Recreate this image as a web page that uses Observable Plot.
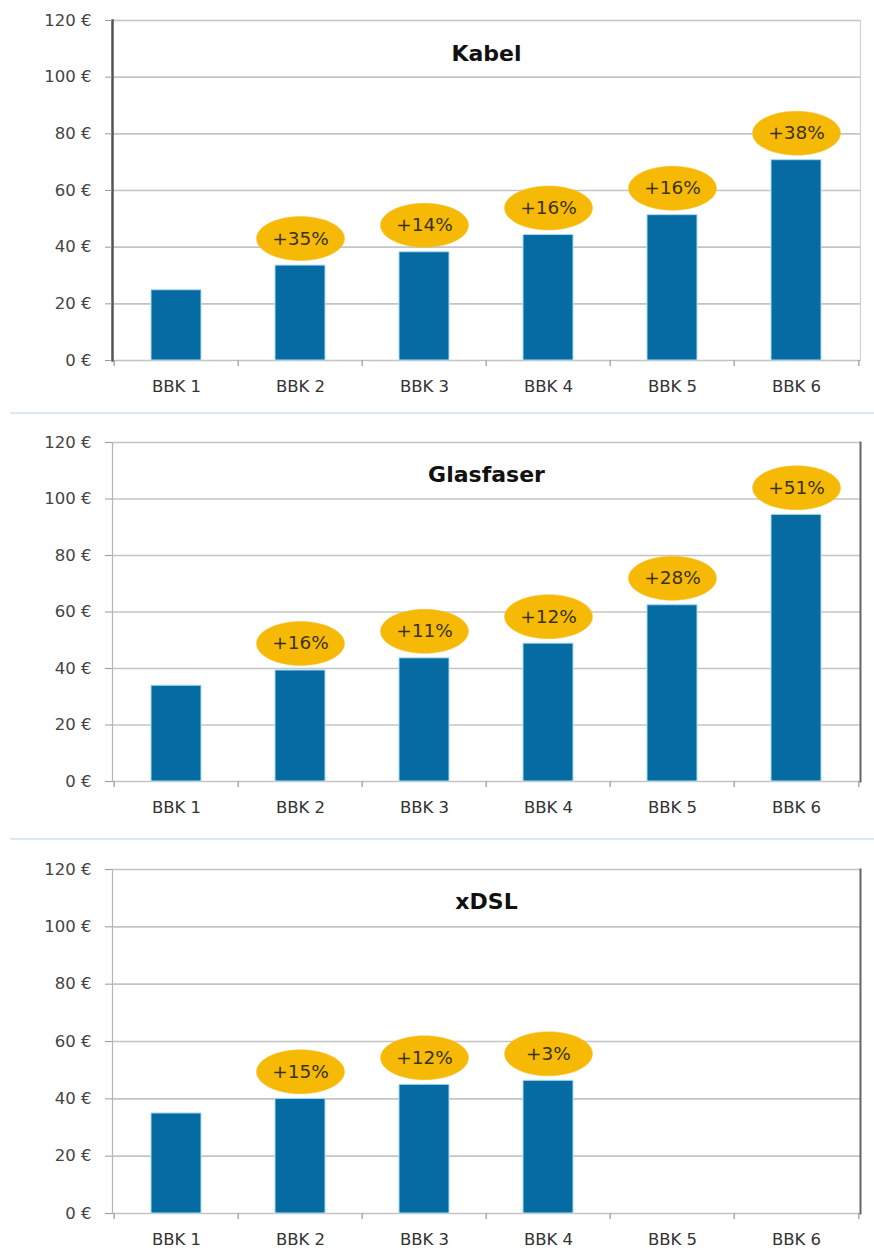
<!DOCTYPE html>
<html>
<head>
<meta charset="utf-8">
<script src="https://cdn.jsdelivr.net/npm/d3@7"></script>
<script src="https://cdn.jsdelivr.net/npm/@observablehq/plot@0.6"></script>
<style>
  html, body { margin: 0; padding: 0; background: #fff; }
  #root { width: 874px; }
  .sep { height: 2px; background: #dce9f4; margin-left: 10px; }
  svg { display: block; }
</style>
</head>
<body>
<div id="root"></div>
<script>
const categories = ["BBK 1", "BBK 2", "BBK 3", "BBK 4", "BBK 5", "BBK 6"];
const yTicks = [0, 20, 40, 60, 80, 100, 120];

const kabelValues = [24.8, 33.5, 38.2, 44.3, 51.3, 70.7];
const kabelChanges = [null, "+35%", "+14%", "+16%", "+16%", "+38%"];

const glasfaserValues = [33.9, 39.3, 43.6, 48.8, 62.4, 94.4];
const glasfaserChanges = [null, "+16%", "+11%", "+12%", "+28%", "+51%"];

const xdslValues = [34.9, 40.0, 44.9, 46.3, null, null];
const xdslChanges = [null, "+15%", "+12%", "+3%", null, null];

const panels = [
  {title: "Kabel", values: kabelValues, changes: kabelChanges,
   height: 412, marginTop: 20, marginBottom: 52, leftDark: true, titleDy: 25},
  {title: "Glasfaser", values: glasfaserValues, changes: glasfaserChanges,
   height: 424, marginTop: 28, marginBottom: 57, leftDark: false, titleDy: 24},
  {title: "xDSL", values: xdslValues, changes: xdslChanges,
   height: 411, marginTop: 29, marginBottom: 38, leftDark: false, titleDy: 24}
];

const ellipse = {
  draw(context, size) {
    const r = Math.sqrt(size / Math.PI);
    const rx = r * 2.0, ry = r;
    const k = 0.5522848;
    context.moveTo(rx, 0);
    context.bezierCurveTo(rx, ry * k, rx * k, ry, 0, ry);
    context.bezierCurveTo(-rx * k, ry, -rx, ry * k, -rx, 0);
    context.bezierCurveTo(-rx, -ry * k, -rx * k, -ry, 0, -ry);
    context.bezierCurveTo(rx * k, -ry, rx, -ry * k, rx, 0);
    context.closePath();
  }
};

const W = 874, ML = 112, MR = 14;
const step = (W - ML - MR) / categories.length;
const root = document.getElementById("root");
const font = "DejaVu Sans, sans-serif";

panels.forEach((p, idx) => {
  const rows = categories.map((c, i) => ({cat: c, value: p.values[i], change: p.changes[i]}));
  const bars = rows.filter(d => d.value != null);
  const badges = rows.filter(d => d.change != null);
  const chart = Plot.plot({
    width: W,
    height: p.height,
    marginLeft: ML,
    marginRight: MR,
    marginTop: p.marginTop,
    marginBottom: p.marginBottom,
    style: {fontFamily: font, background: "#fff", overflow: "visible"},
    x: {domain: categories, paddingInner: 0.6, paddingOuter: 0.3, label: null},
    y: {domain: [0, 120], label: null},
    marks: [
      Plot.gridY(yTicks, {stroke: "#c4c4c4", strokeOpacity: 1, strokeWidth: 1.6}),
      Plot.frame({anchor: "left", stroke: p.leftDark ? "#555" : "#b5b5b5", strokeWidth: p.leftDark ? 2.5 : 1.2}),
      Plot.frame({anchor: "right", stroke: p.leftDark ? "#d2d2d2" : "#666", strokeWidth: p.leftDark ? 1.2 : 2}),
      Plot.axisY({ticks: yTicks, tickFormat: d => d + " €", tickSize: 7, tickPadding: 14,
        fontSize: 16.5, fill: "#444", stroke: "#999", label: null}),
      Plot.axisX({tickSize: 0, tickPadding: 20, fontSize: 16.5, fill: "#333", label: null}),
      Plot.ruleX(categories, {x: d => d, dx: -step / 2, y1: 0, y2: 0, insetBottom: -6, stroke: "#999", strokeWidth: 1.2}),
      Plot.ruleX([categories[categories.length - 1]], {x: d => d, dx: step / 2, y1: 0, y2: 0, insetBottom: -6, stroke: "#999", strokeWidth: 1.2}),
      Plot.barY(bars, {x: "cat", y: "value", fill: "#076ba3", stroke: "#a8ddf2", strokeWidth: 1}),
      Plot.dot(badges, {x: "cat", y: "value", dy: -27, r: 22, symbol: ellipse, fill: "#f6b906", stroke: "#f3c233", strokeWidth: 0.5}),
      Plot.text(badges, {x: "cat", y: "value", dy: -27, text: "change", fontSize: 18.5, fill: "#3a3320"}),
      Plot.text([p.title], {frameAnchor: "top", dy: p.titleDy, fontSize: 22, fontWeight: "bold", fill: "#111"})
    ]
  });
  root.appendChild(chart);
  if (idx < panels.length - 1) {
    const sep = document.createElement("div");
    sep.className = "sep";
    root.appendChild(sep);
  }
});
</script>
</body>
</html>
